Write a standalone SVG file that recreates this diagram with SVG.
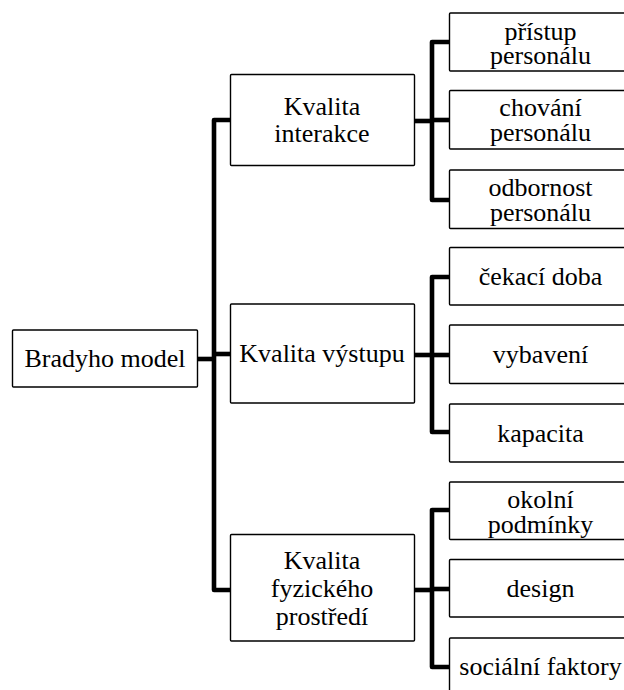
<svg xmlns="http://www.w3.org/2000/svg" width="624" height="690" viewBox="0 0 624 690">
<style>
.box{fill:#fff;stroke:#000;stroke-width:1.4}
.t{font-family:'Liberation Serif','DejaVu Serif',serif;font-size:26px;fill:#000;text-anchor:middle}
.c{fill:none;stroke:#000;stroke-width:4.6;stroke-linejoin:round;stroke-linecap:butt}
</style>
<rect width="624" height="690" fill="#fff"/>
<g id="connectors">
<path class="c" d="M197,359 H214"/>
<path class="c" d="M230,120 H214 V590 H230"/>
<path class="c" d="M214,354 H230"/>
<path class="c" d="M414,121 H432"/>
<path class="c" d="M449,42 H432 V200 H449"/>
<path class="c" d="M432,120 H449"/>
<path class="c" d="M414,355 H432"/>
<path class="c" d="M449,277 H432 V432 H449"/>
<path class="c" d="M432,355 H449"/>
<path class="c" d="M414,590 H432"/>
<path class="c" d="M449,510 H432 V667 H449"/>
<path class="c" d="M432,589 H449"/>
</g>
<g id="root">
<rect class="box" x="12.5" y="330" width="185" height="57" rx="1"/>
<text class="t" x="105" y="367" font-family="Liberation Serif, serif">Bradyho model</text>
</g>
<g id="interakce">
<rect class="box" x="230.5" y="74.5" width="184" height="91" rx="1"/>
<text class="t" x="322" y="115">Kvalita</text>
<text class="t" x="322" y="142">interakce</text>
</g>
<g id="vystup">
<rect class="box" x="230.5" y="304" width="184" height="99" rx="1"/>
<text class="t" x="322" y="362">Kvalita výstupu</text>
</g>
<g id="fyzicke">
<rect class="box" x="230.5" y="534.5" width="184" height="106.5" rx="1"/>
<text class="t" x="322" y="569">Kvalita</text>
<text class="t" x="322" y="597">fyzického</text>
<text class="t" x="322" y="625">prostředí</text>
</g>
<g id="pristup">
<rect class="box" x="449.5" y="13" width="182" height="58" rx="1"/>
<text class="t" x="540.5" y="39.5">přístup</text>
<text class="t" x="540.5" y="64">personálu</text>
</g>
<g id="chovani">
<rect class="box" x="449.5" y="90.5" width="182" height="58.5" rx="1"/>
<text class="t" x="540.5" y="116">chování</text>
<text class="t" x="540.5" y="141">personálu</text>
</g>
<g id="odbornost">
<rect class="box" x="449.5" y="170" width="182" height="58.5" rx="1"/>
<text class="t" x="540.5" y="195.5">odbornost</text>
<text class="t" x="540.5" y="220.5">personálu</text>
</g>
<g id="cekaci">
<rect class="box" x="449.5" y="247.5" width="182" height="57.5" rx="1"/>
<text class="t" x="540.5" y="285">čekací doba</text>
</g>
<g id="vybaveni">
<rect class="box" x="449.5" y="325" width="182" height="58.5" rx="1"/>
<text class="t" x="540.5" y="363">vybavení</text>
</g>
<g id="kapacita">
<rect class="box" x="449.5" y="404" width="182" height="58" rx="1"/>
<text class="t" x="540.5" y="441.5">kapacita</text>
</g>
<g id="okolni">
<rect class="box" x="449.5" y="482" width="182" height="57.5" rx="1"/>
<text class="t" x="540.5" y="508">okolní</text>
<text class="t" x="540.5" y="533">podmínky</text>
</g>
<g id="design">
<rect class="box" x="449.5" y="559.5" width="182" height="57.5" rx="1"/>
<text class="t" x="540.5" y="597">design</text>
</g>
<g id="socialni">
<rect class="box" x="449.5" y="638" width="182" height="58" rx="1"/>
<text class="t" x="540.5" y="675">sociální faktory</text>
</g>
</svg>
